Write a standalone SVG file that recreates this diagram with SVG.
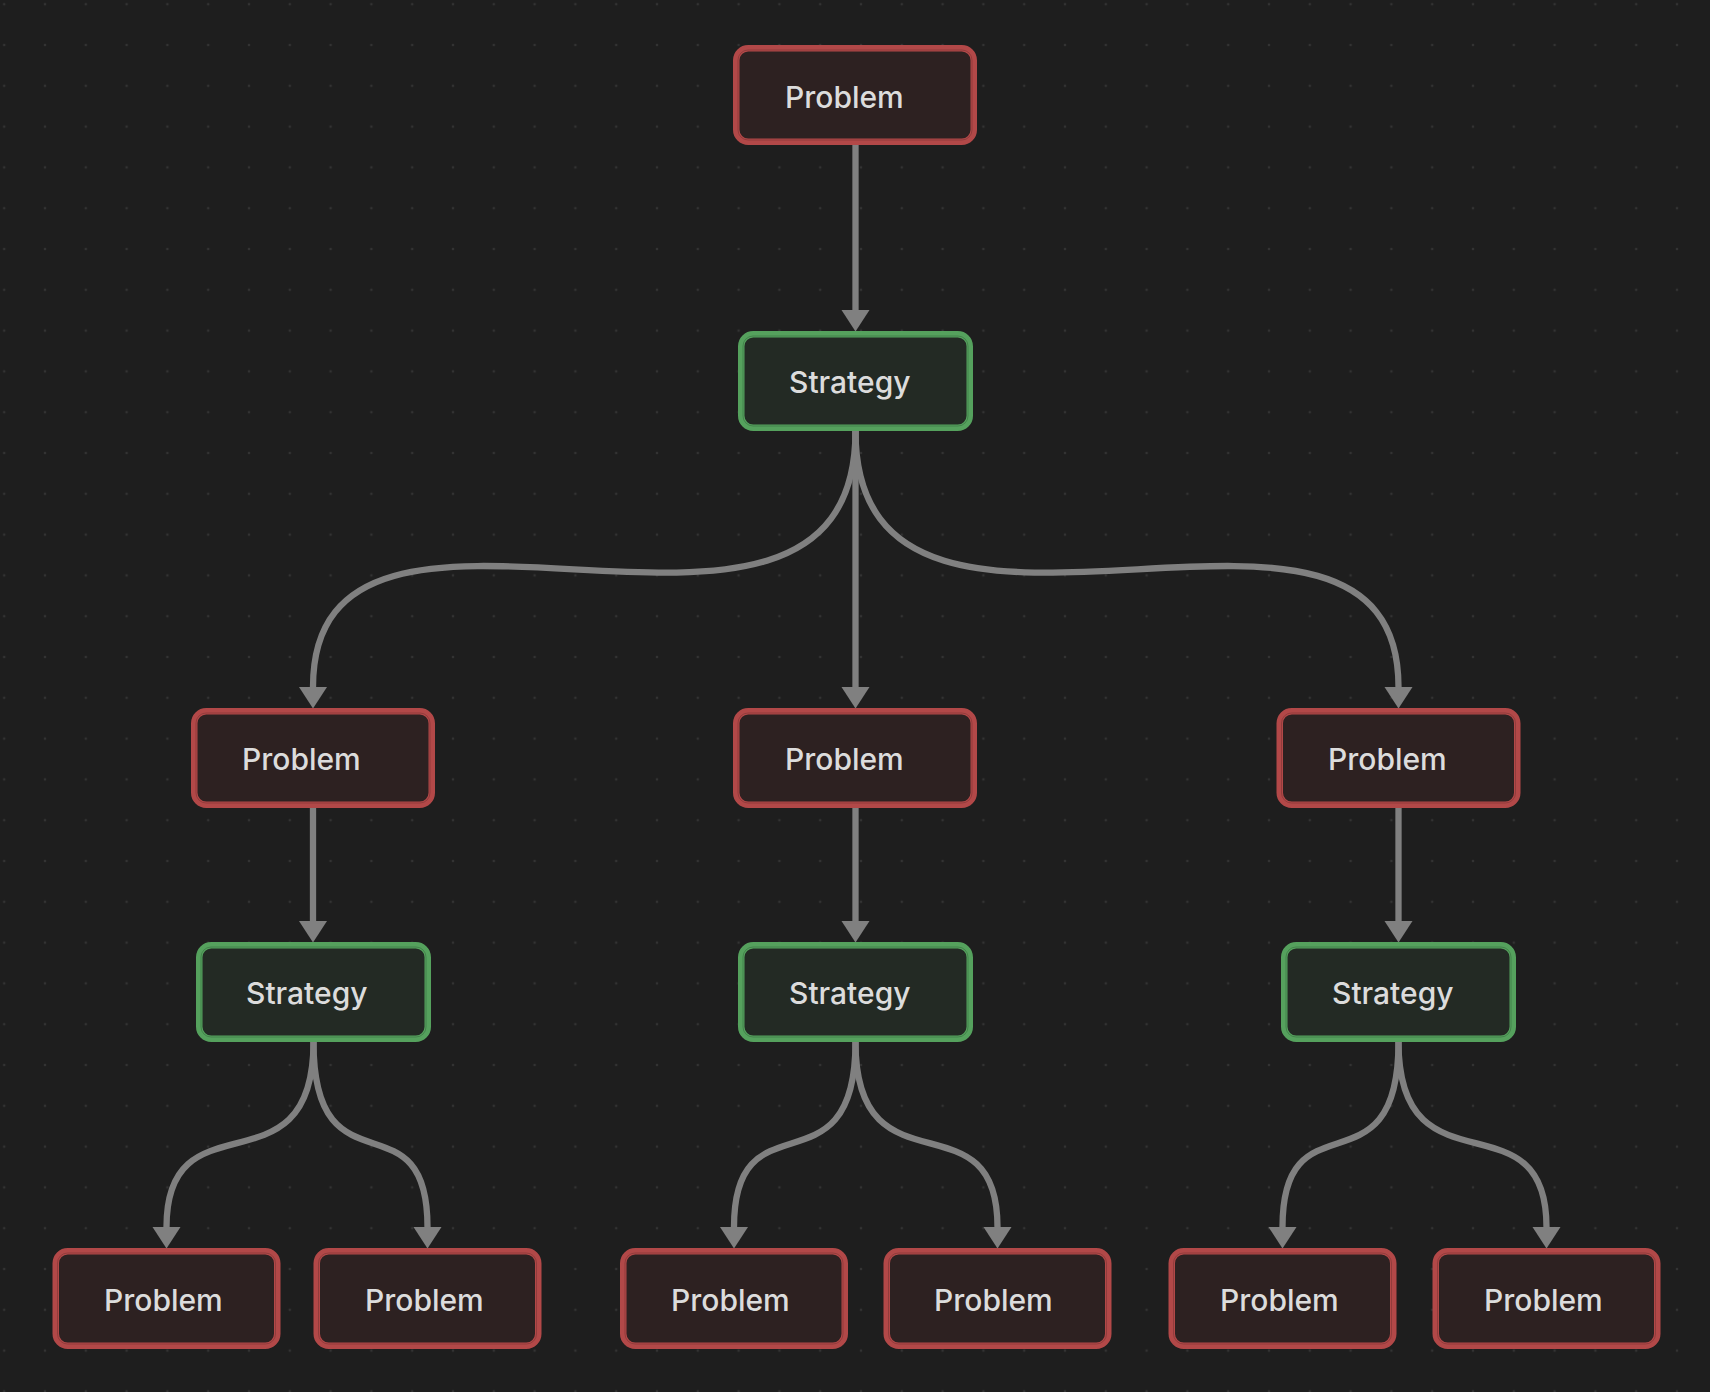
<svg xmlns="http://www.w3.org/2000/svg" width="1710" height="1392" viewBox="0 0 1710 1392">
<defs>
<pattern id="dots" x="4.2" y="4.2" width="40.8" height="40.8" patternUnits="userSpaceOnUse">
<circle cx="0" cy="0" r="1.3" fill="#333333"/>
<circle cx="40.8" cy="0" r="1.3" fill="#333333"/>
<circle cx="0" cy="40.8" r="1.3" fill="#333333"/>
<circle cx="40.8" cy="40.8" r="1.3" fill="#333333"/>
</pattern>
<marker id="arrow" markerUnits="userSpaceOnUse" markerWidth="30" markerHeight="30" viewBox="0 -15 22 30" refX="0" refY="0" orient="auto">
<path d="M0,-14 L21.5,0 L0,14 Z" fill="#808080"/>
</marker>
</defs>
<style>
.bg{fill:#1e1e1e}
.edge{fill:none;stroke:#808080;stroke-width:6.3;marker-end:url(#arrow)}
.prob{fill:#2d2121;stroke:#b24848;stroke-width:6.5}
.strat{fill:#232a24;stroke:#55a15d;stroke-width:6.5}
.pin{fill:none;stroke:#8e3b3b;stroke-width:0.9}
.sin{fill:none;stroke:#42804a;stroke-width:0.9}
.lbl{font-family:Inter,"Noto Sans","Liberation Sans",sans-serif;font-size:30px;font-weight:500;fill:#dcdcdc}
</style>
<rect class="bg" x="0" y="0" width="1710" height="1392"/>
<rect x="0" y="0" width="1710" height="1392" fill="url(#dots)"/>

<g id="connectors">
<path class="edge" d="M855.5,145 L855.5,310"/>
<path class="edge" d="M855.5,431 L855.5,687"/>
<path class="edge" d="M855.5,431 C855.5,731 313,416 313,687"/>
<path class="edge" d="M855.5,431 C855.5,731 1398.5,416 1398.5,687"/>
<path class="edge" d="M313,808 L313,921"/>
<path class="edge" d="M855.5,808 L855.5,921"/>
<path class="edge" d="M1398.5,808 L1398.5,921"/>
<path class="edge" d="M313.5,1042 C313.5,1199 166.5,1091 166.5,1227"/>
<path class="edge" d="M313.5,1042 C313.5,1199 427.5,1091 427.5,1227"/>
<path class="edge" d="M855.5,1042 C855.5,1199 734,1091 734,1227"/>
<path class="edge" d="M855.5,1042 C855.5,1199 997.5,1091 997.5,1227"/>
<path class="edge" d="M1398.5,1042 C1398.5,1199 1282.5,1091 1282.5,1227"/>
<path class="edge" d="M1398.5,1042 C1398.5,1199 1546.5,1091 1546.5,1227"/>
</g>

<g id="n-p0">
<rect class="prob" x="736.25" y="48.25" width="237.5" height="93.5" rx="12"/>
<rect class="pin" x="738" y="50" width="234" height="90" rx="10"/>
<text class="lbl" x="785" y="108">Problem</text>
</g>
<g id="n-s0">
<rect class="strat" x="741.25" y="334.25" width="228.5" height="93.5" rx="12"/>
<rect class="sin" x="743" y="336" width="225" height="90" rx="10"/>
<text class="lbl" x="789" y="393">Strategy</text>
</g>

<g id="n-p1l">
<rect class="prob" x="194.25" y="711.25" width="237.5" height="93.5" rx="12"/>
<rect class="pin" x="196" y="713" width="234" height="90" rx="10"/>
<text class="lbl" x="242" y="770">Problem</text>
</g>
<g id="n-p1m">
<rect class="prob" x="736.25" y="711.25" width="237.5" height="93.5" rx="12"/>
<rect class="pin" x="738" y="713" width="234" height="90" rx="10"/>
<text class="lbl" x="785" y="770">Problem</text>
</g>
<g id="n-p1r">
<rect class="prob" x="1279.75" y="711.25" width="237.5" height="93.5" rx="12"/>
<rect class="pin" x="1281.5" y="713" width="234" height="90" rx="10"/>
<text class="lbl" x="1328" y="770">Problem</text>
</g>

<g id="n-s1l">
<rect class="strat" x="199.25" y="945.25" width="228.5" height="93.5" rx="12"/>
<rect class="sin" x="201" y="947" width="225" height="90" rx="10"/>
<text class="lbl" x="246" y="1004">Strategy</text>
</g>
<g id="n-s1m">
<rect class="strat" x="741.25" y="945.25" width="228.5" height="93.5" rx="12"/>
<rect class="sin" x="743" y="947" width="225" height="90" rx="10"/>
<text class="lbl" x="789" y="1004">Strategy</text>
</g>
<g id="n-s1r">
<rect class="strat" x="1284.25" y="945.25" width="228.5" height="93.5" rx="12"/>
<rect class="sin" x="1286" y="947" width="225" height="90" rx="10"/>
<text class="lbl" x="1332" y="1004">Strategy</text>
</g>

<g id="n-b1">
<rect class="prob" x="55.75" y="1251.25" width="221.5" height="94.5" rx="12"/>
<rect class="pin" x="57.5" y="1253" width="218" height="91" rx="10"/>
<text class="lbl" x="104" y="1311">Problem</text>
</g>
<g id="n-b2">
<rect class="prob" x="316.75" y="1251.25" width="221.5" height="94.5" rx="12"/>
<rect class="pin" x="318.5" y="1253" width="218" height="91" rx="10"/>
<text class="lbl" x="365" y="1311">Problem</text>
</g>
<g id="n-b3">
<rect class="prob" x="623.25" y="1251.25" width="221.5" height="94.5" rx="12"/>
<rect class="pin" x="625" y="1253" width="218" height="91" rx="10"/>
<text class="lbl" x="671" y="1311">Problem</text>
</g>
<g id="n-b4">
<rect class="prob" x="886.75" y="1251.25" width="221.5" height="94.5" rx="12"/>
<rect class="pin" x="888.5" y="1253" width="218" height="91" rx="10"/>
<text class="lbl" x="934" y="1311">Problem</text>
</g>
<g id="n-b5">
<rect class="prob" x="1171.75" y="1251.25" width="221.5" height="94.5" rx="12"/>
<rect class="pin" x="1173.5" y="1253" width="218" height="91" rx="10"/>
<text class="lbl" x="1220" y="1311">Problem</text>
</g>
<g id="n-b6">
<rect class="prob" x="1435.75" y="1251.25" width="221.5" height="94.5" rx="12"/>
<rect class="pin" x="1437.5" y="1253" width="218" height="91" rx="10"/>
<text class="lbl" x="1484" y="1311">Problem</text>
</g>
</svg>
